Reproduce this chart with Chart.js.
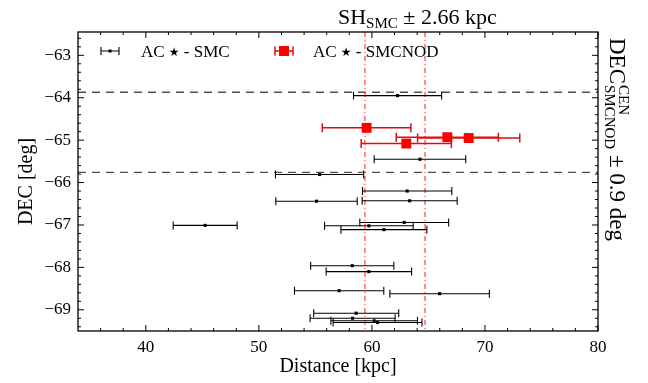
<!DOCTYPE html>
<html>
<head>
<meta charset="utf-8">
<title>AC stars - distance vs DEC</title>
<script src="https://cdn.jsdelivr.net/npm/chart.js"></script>
<style>
  body { margin: 0; background: #fff; }
</style>
</head>
<body>
<canvas id="chart" width="648" height="383"></canvas>
<script>
// AC stars towards the SMC: distance [kpc], DEC [deg], distance error [kpc]
var smcDist = [62.27, 64.25, 55.37, 63.12, 55.10, 63.34, 45.25, 62.86, 59.73, 61.06, 58.26, 59.73, 57.10, 65.99, 58.61, 58.29, 60.20, 60.50];
var smcDec  = [-63.95, -65.45, -65.81, -66.20, -66.44, -66.43, -67.01, -66.94, -67.02, -67.11, -67.96, -68.10, -68.55, -68.62, -69.08, -69.20, -69.26, -69.30];
var smcErr  = [3.90, 4.05, 3.90, 3.95, 3.60, 4.20, 2.83, 3.93, 3.92, 3.80, 3.68, 3.78, 3.95, 4.40, 3.76, 3.76, 3.83, 3.93];

// AC stars in the SMC north-east overdensity
var nodDist = [59.53, 66.67, 68.56, 63.04];
var nodDec  = [-64.71, -64.93, -64.95, -65.08];
var nodErr  = [3.92, 4.52, 4.52, 3.99];

var xTicks = [40, 50, 60, 70, 80];
var yTicks = [-63, -64, -65, -66, -67, -68, -69];

var shLines = [59.38, 64.70];     // SH_SMC +- 2.66 kpc
var decLines = [-63.87, -65.76];  // DEC^CEN_SMCNOD +- 0.9 deg

var serif = '"Liberation Serif", "DejaVu Serif", serif';

function toPoints(xs, ys) {
    return xs.map(function (v, i) { return { x: v, y: ys[i] }; });
}

function minus(v) {
    return v < 0 ? '\u2212' + Math.abs(v) : String(v);
}

// "AC * - name" with a bigger star than the serif font gives
function legendText(ctx, name, x, y) {
    ctx.font = '17px ' + serif;
    ctx.fillText('AC ', x, y);
    x += ctx.measureText('AC ').width;
    ctx.font = '12px "DejaVu Sans", sans-serif';
    ctx.fillText('\u2605', x, y - 1);
    x += ctx.measureText('\u2605').width;
    ctx.font = '17px ' + serif;
    ctx.fillText(' - ' + name, x, y);
}

var decor = {
    id: 'decor',
    beforeDatasetsDraw: function (chart) {
        var ctx = chart.ctx, a = chart.chartArea;
        var xs = chart.scales.x, ys = chart.scales.y;
        ctx.save();
        ctx.beginPath();
        ctx.rect(a.left, a.top, a.right - a.left, a.bottom - a.top);
        ctx.clip();

        // dashed DEC band
        ctx.strokeStyle = 'rgba(60,60,60,0.9)';
        ctx.lineWidth = 1.4;
        ctx.setLineDash([8, 6]);
        decLines.forEach(function (d) {
            var y = ys.getPixelForValue(d);
            ctx.beginPath();
            ctx.moveTo(a.left, y);
            ctx.lineTo(a.right, y);
            ctx.stroke();
        });

        // dash-dot SH lines
        ctx.strokeStyle = 'rgba(255,50,50,0.85)';
        ctx.lineWidth = 1.3;
        ctx.setLineDash([5, 3, 1, 3]);
        shLines.forEach(function (d) {
            var x = xs.getPixelForValue(d);
            ctx.beginPath();
            ctx.moveTo(x, a.top);
            ctx.lineTo(x, a.bottom);
            ctx.stroke();
        });
        ctx.setLineDash([]);

        // horizontal error bars
        chart.data.datasets.forEach(function (ds) {
            ctx.strokeStyle = ds.barColor;
            ctx.lineWidth = ds.barWidth;
            ds.data.forEach(function (p, i) {
                var x0 = xs.getPixelForValue(p.x - ds.xErr[i]);
                var x1 = xs.getPixelForValue(p.x + ds.xErr[i]);
                var y = ys.getPixelForValue(p.y);
                var c = ds.capSize;
                ctx.beginPath();
                ctx.moveTo(x0, y); ctx.lineTo(x1, y);
                ctx.moveTo(x0, y - c); ctx.lineTo(x0, y + c);
                ctx.moveTo(x1, y - c); ctx.lineTo(x1, y + c);
                ctx.stroke();
            });
        });
        ctx.restore();
    },
    afterDraw: function (chart) {
        var ctx = chart.ctx, a = chart.chartArea;
        var xs = chart.scales.x, ys = chart.scales.y;
        ctx.save();

        // frame
        ctx.strokeStyle = '#000';
        ctx.lineWidth = 1.3;
        ctx.strokeRect(a.left, a.top, a.right - a.left, a.bottom - a.top);

        // inward ticks on all four sides
        ctx.lineWidth = 1;
        function xt(v, len) {
            var x = xs.getPixelForValue(v);
            ctx.moveTo(x, a.bottom); ctx.lineTo(x, a.bottom - len);
            ctx.moveTo(x, a.top); ctx.lineTo(x, a.top + len);
        }
        function yt(v, len) {
            var y = ys.getPixelForValue(v);
            ctx.moveTo(a.left, y); ctx.lineTo(a.left + len, y);
            ctx.moveTo(a.right, y); ctx.lineTo(a.right - len, y);
        }
        ctx.beginPath();
        xTicks.forEach(function (v) { xt(v, 6); });
        for (var mx = 36; mx < 80; mx += 2) {
            if (mx % 10 !== 0) xt(mx, 3);
        }
        yTicks.forEach(function (v) { yt(v, 6); });
        for (var k = -347; k <= -313; k++) {
            if (k % 5 !== 0) yt(k / 5, 3);
        }
        ctx.stroke();

        // legend
        ctx.fillStyle = '#000';
        ctx.textBaseline = 'alphabetic';
        var ly = 51;
        ctx.strokeStyle = '#000';
        ctx.lineWidth = 1.1;
        ctx.beginPath();
        ctx.moveTo(101, ly); ctx.lineTo(119, ly);
        ctx.moveTo(101, ly - 4); ctx.lineTo(101, ly + 4);
        ctx.moveTo(119, ly - 4); ctx.lineTo(119, ly + 4);
        ctx.stroke();
        ctx.fillRect(108.5, ly - 1.5, 3, 3);
        legendText(ctx, 'SMC', 141, ly + 6);

        ctx.strokeStyle = '#d81010';
        ctx.lineWidth = 1.5;
        ctx.beginPath();
        ctx.moveTo(275, ly); ctx.lineTo(293, ly);
        ctx.moveTo(275, ly - 4.5); ctx.lineTo(275, ly + 4.5);
        ctx.moveTo(293, ly - 4.5); ctx.lineTo(293, ly + 4.5);
        ctx.stroke();
        ctx.fillStyle = '#ff0000';
        ctx.fillRect(279, ly - 5, 10, 10);
        ctx.fillStyle = '#000';
        legendText(ctx, 'SMCNOD', 313, ly + 6);

        // top label
        var tx = 338, tyb = 24;
        ctx.font = '22px ' + serif;
        ctx.fillText('SH', tx, tyb);
        tx += ctx.measureText('SH').width;
        ctx.font = '15px ' + serif;
        ctx.fillText('SMC', tx, tyb + 4);
        tx += ctx.measureText('SMC').width;
        ctx.font = '22px ' + serif;
        ctx.fillText(' \u00B1 2.66 kpc', tx, tyb);

        // right label, rotated
        ctx.translate(610, 38);
        ctx.rotate(Math.PI / 2);
        ctx.font = '23px ' + serif;
        ctx.fillText('DEC', 0, 0);
        var rx = ctx.measureText('DEC').width + 1;
        ctx.font = '15px ' + serif;
        ctx.fillText('CEN', rx, -9);
        ctx.fillText('SMCNOD', rx, 5);
        rx += ctx.measureText('SMCNOD').width;
        ctx.font = '23px ' + serif;
        ctx.fillText(' \u00B1 0.9 deg', rx, 0);
        ctx.restore();
    }
};

var ctx = document.getElementById('chart').getContext('2d');
new Chart(ctx, {
    type: 'scatter',
    data: {
        datasets: [{
            label: 'AC \u22C6 - SMC',
            data: toPoints(smcDist, smcDec),
            xErr: smcErr,
            barColor: '#000',
            barWidth: 1.1,
            capSize: 4,
            pointStyle: 'rect',
            pointRadius: 2.2,
            backgroundColor: '#000',
            borderWidth: 0
        }, {
            label: 'AC \u22C6 - SMCNOD',
            data: toPoints(nodDist, nodDec),
            xErr: nodErr,
            barColor: '#d81010',
            barWidth: 1.5,
            capSize: 4.5,
            pointStyle: 'rect',
            pointRadius: 7,
            backgroundColor: '#ff0000',
            borderWidth: 0
        }]
    },
    options: {
        responsive: false,
        animation: false,
        devicePixelRatio: 1,
        layout: { padding: { left: 0, right: 50, top: 32, bottom: 0 } },
        plugins: {
            legend: { display: false },
            tooltip: { enabled: false }
        },
        scales: {
            x: {
                type: 'linear',
                min: 34,
                max: 80,
                grid: { display: false, drawTicks: false },
                border: { display: false },
                afterBuildTicks: function (s) { s.ticks = xTicks.map(function (v) { return { value: v }; }); },
                afterFit: function (s) { s.height = 52; },
                ticks: {
                    padding: 6,
                    color: '#000',
                    font: { family: serif, size: 17 }
                },
                title: {
                    display: true,
                    text: 'Distance [kpc]',
                    color: '#000',
                    font: { family: serif, size: 20 },
                    padding: { top: 0, bottom: 4 }
                }
            },
            y: {
                type: 'linear',
                min: -69.5,
                max: -62.45,
                grid: { display: false, drawTicks: false },
                border: { display: false },
                afterBuildTicks: function (s) { s.ticks = yTicks.map(function (v) { return { value: v }; }); },
                afterFit: function (s) { s.width = 78; },
                ticks: {
                    padding: 7,
                    color: '#000',
                    font: { family: serif, size: 17 },
                    callback: function (v) { return minus(v); }
                },
                title: {
                    display: true,
                    text: 'DEC [deg]',
                    color: '#000',
                    font: { family: serif, size: 20 },
                    padding: { top: 15, bottom: 0 }
                }
            }
        }
    },
    plugins: [decor]
});
</script>
</body>
</html>
